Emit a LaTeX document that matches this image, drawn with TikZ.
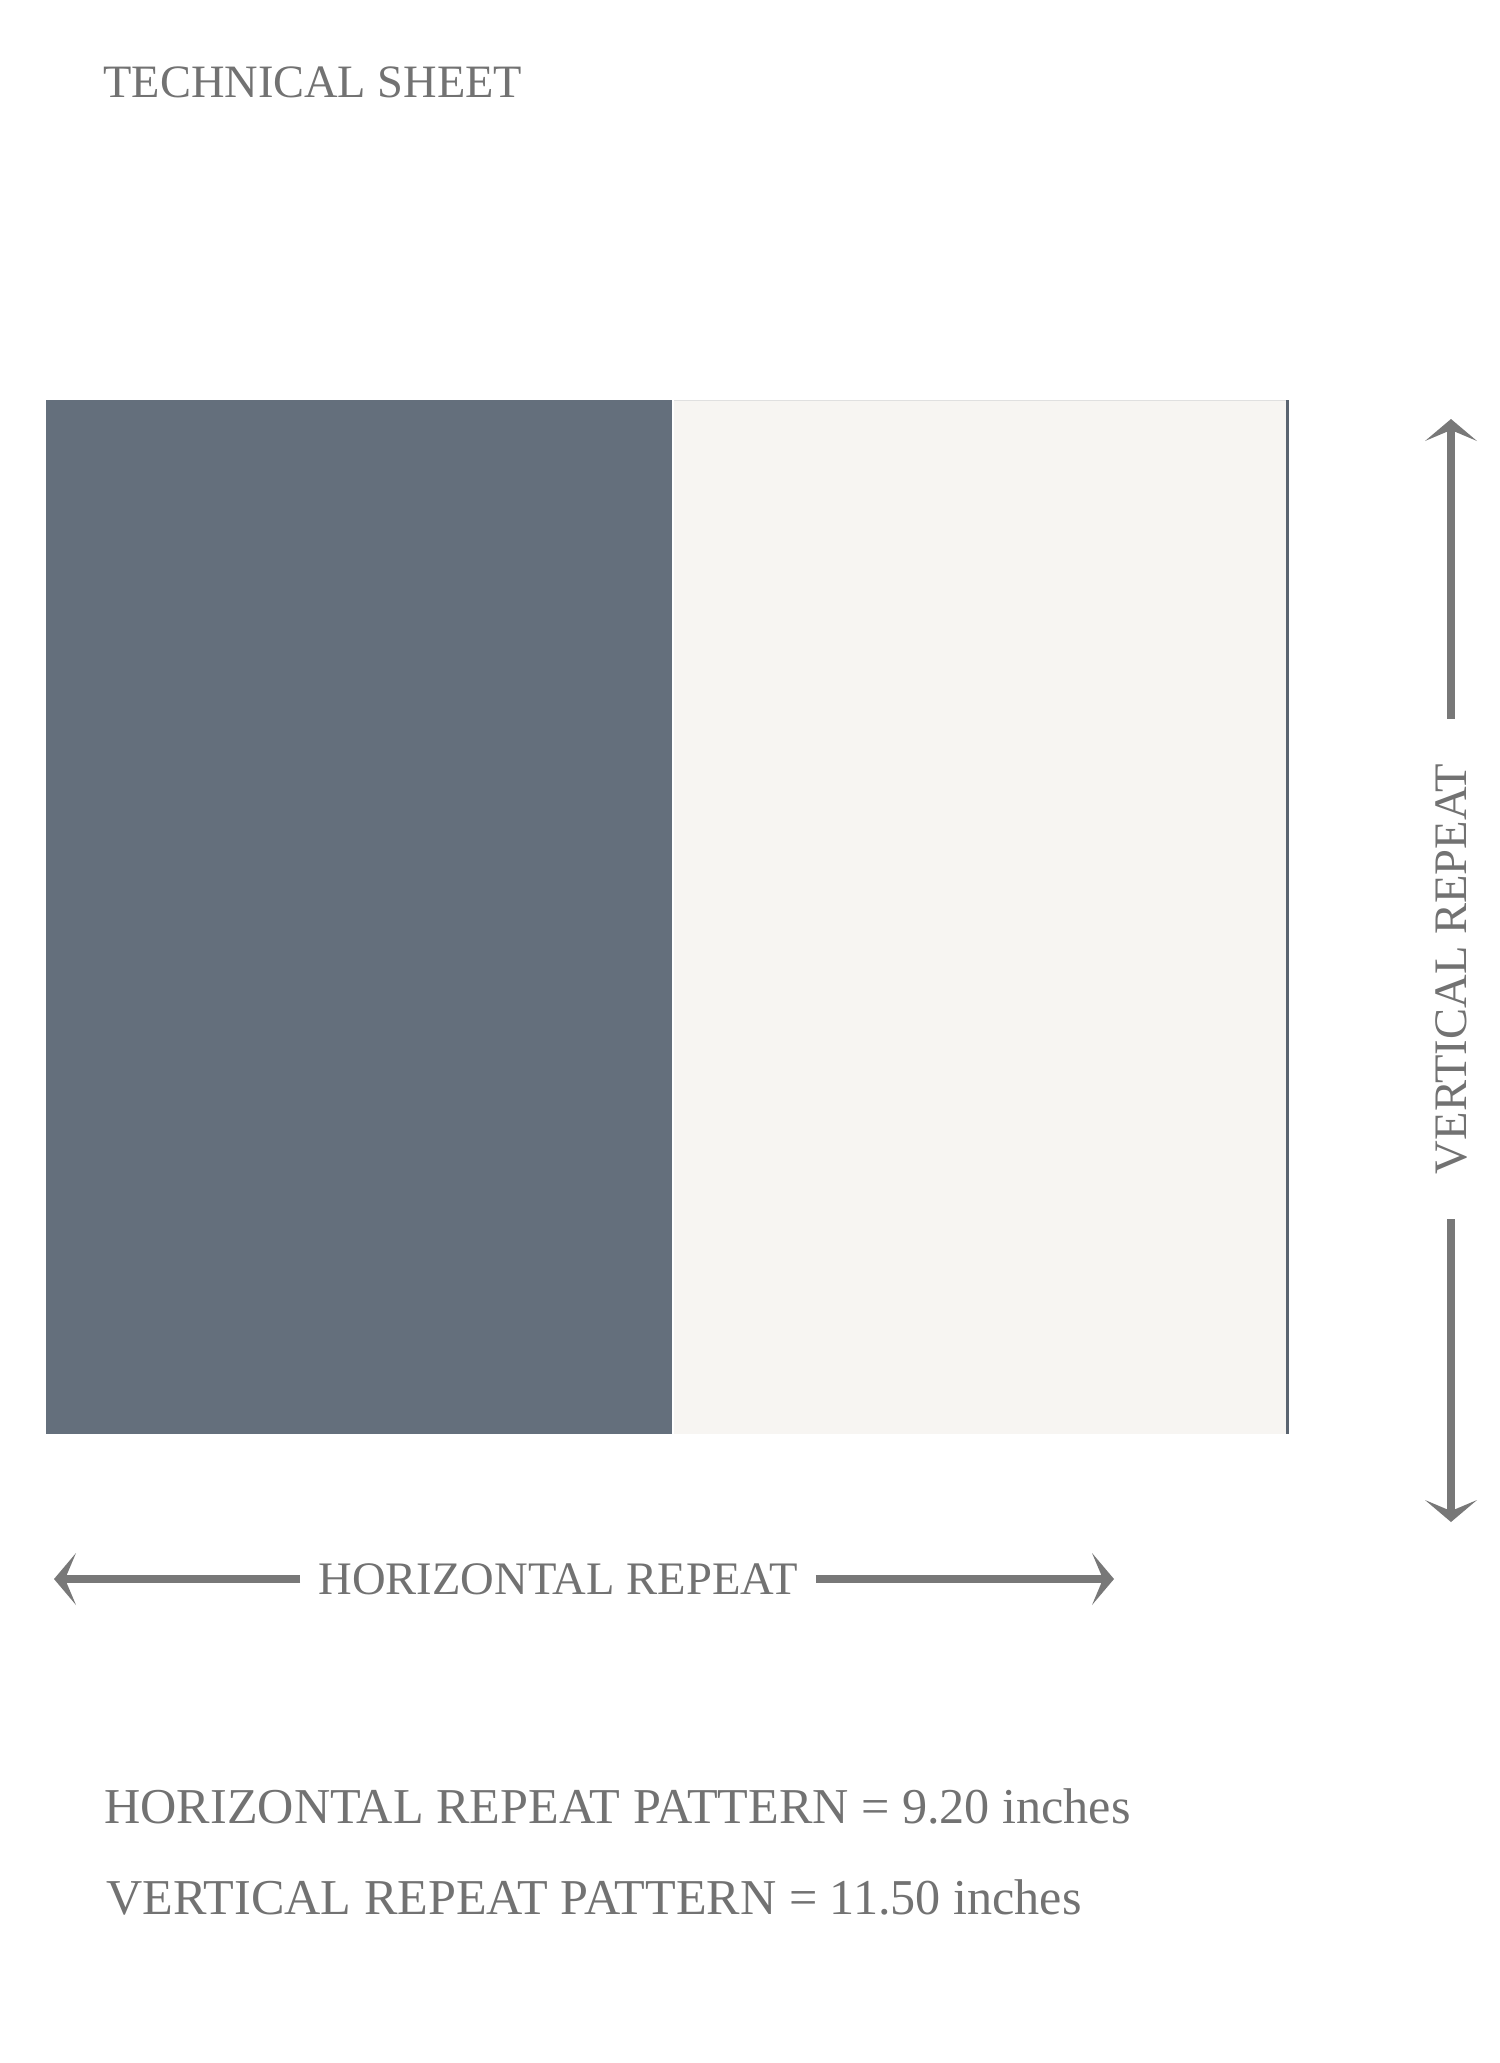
\documentclass[tikz,border=0pt]{standalone}
\usepackage{fontspec}
\setmainfont{Liberation Serif}
\usetikzlibrary{arrows.meta}
\definecolor{slate}{HTML}{646F7C}
\definecolor{paper}{HTML}{F7F5F2}
\definecolor{inkgrey}{HTML}{727272}
\definecolor{arrowgrey}{HTML}{787878}
\tikzset{
    sheettext/.style={text=inkgrey,inner sep=0},
    repeatarrow/.style={draw=arrowgrey,line width=4pt,-{Stealth[length=11pt,width=26pt,inset=5.5pt,line width=0pt]}},
}

\begin{document}
\begin{tikzpicture}[x=0.5pt,y=-0.5pt]
    \pgfmathsetmacro{\tileleft}{46}
    \pgfmathsetmacro{\tilesplit}{672}
    \pgfmathsetmacro{\tileright}{1287}
    \pgfmathsetmacro{\tiletop}{400}
    \pgfmathsetmacro{\tilebottom}{1434}
    \providecommand{\titlefontsize}{\fontsize{23.2}{28}\selectfont}
    \providecommand{\labelfontsize}{\fontsize{23.3}{28}\selectfont}
    \providecommand{\notefontsize}{\fontsize{25.1}{30}\selectfont}
    \fill[white] (0,0) rectangle (1500,2063);
    \useasboundingbox (0,0) rectangle (1500,2063);
    \node[sheettext,anchor=base west,font=\titlefontsize] (title) at (103,97) {TECHNICAL SHEET};
    % the repeat tile: two bands
    \fill[slate] (\tileleft,\tiletop) rectangle (\tilesplit-0.5,\tilebottom);
    \fill[paper] (\tilesplit+2,\tiletop) rectangle (\tileright-1,\tilebottom);
    \draw[black!12,line width=0.5pt] (\tilesplit+2,\tiletop) -- (\tileright-1,\tiletop);
    \fill[slate!90!black] (\tileright-1,\tiletop) rectangle (\tileright+2,\tilebottom);
    % vertical repeat
    \node[sheettext,rotate=90,inner xsep=22.5pt,font=\labelfontsize] (vlabel) at (1451,969) {VERTICAL REPEAT};
    \coordinate (vtop) at (1451,419);
    \coordinate (vbottom) at (1451,1522);
    \draw[repeatarrow] (vlabel.east) -- (vtop);
    \draw[repeatarrow] (vlabel.west) -- (vbottom);
    % horizontal repeat
    \node[sheettext,inner xsep=9pt,font=\labelfontsize] (hlabel) at (558,1579) {HORIZONTAL REPEAT};
    \coordinate (hleft) at (54,1579);
    \coordinate (hright) at (1114,1579);
    \draw[repeatarrow] (hlabel.west) -- (hleft);
    \draw[repeatarrow] (hlabel.east) -- (hright);
    \node[sheettext,anchor=base west,font=\notefontsize] (hpattern) at (104,1823) {HORIZONTAL REPEAT PATTERN = 9.20 inches};
    \node[sheettext,anchor=base west,font=\notefontsize] (vpattern) at (106,1914) {VERTICAL REPEAT PATTERN = 11.50 inches};
\end{tikzpicture}
\end{document}
